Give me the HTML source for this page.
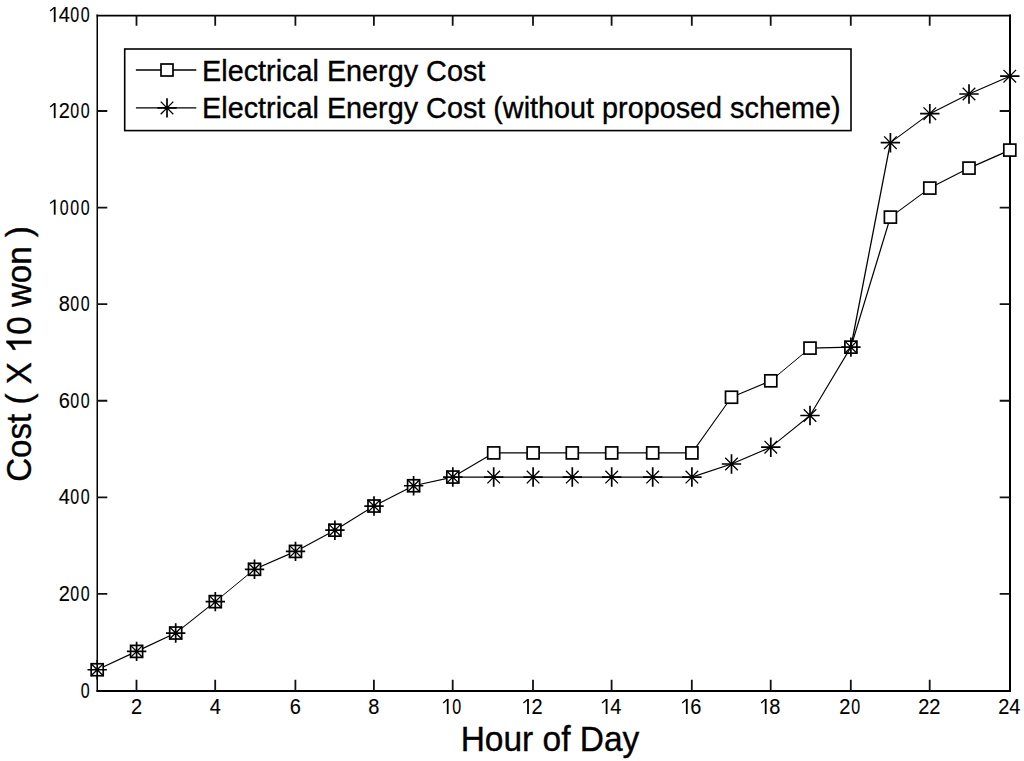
<!DOCTYPE html>
<html><head><meta charset="utf-8"><style>
html,body{margin:0;padding:0;background:#fff;width:1024px;height:761px;overflow:hidden}
svg{display:block;font-family:"Liberation Sans",sans-serif;fill:#000}
text{stroke:#000;stroke-width:.35px}
g.tl text{stroke-width:.12px}
</style></head><body>
<svg width="1024" height="761" viewBox="0 0 1024 761">
<path d="M97.25 14.5V691.8" stroke="#000" stroke-width="1.5"/>
<path d="M96.5 15.6H1011" stroke="#000" stroke-width="1.7"/>
<path d="M1010 14.5V692" stroke="#000" stroke-width="2"/>
<path d="M96.5 691H1011" stroke="#000" stroke-width="2"/>
<path d="M97 593.92h10.3M1010 593.92h-10.3M97 497.34h10.3M1010 497.34h-10.3M97 400.76h10.3M1010 400.76h-10.3M97 304.18h10.3M1010 304.18h-10.3M97 207.6h10.3M1010 207.6h-10.3M97 111.02h10.3M1010 111.02h-10.3M136.5 691v-11.3M136.5 15v10.8M215.2 691v-11.3M215.2 15v10.8M295.4 691v-11.3M295.4 15v10.8M373.9 691v-11.3M373.9 15v10.8M452.7 691v-11.3M452.7 15v10.8M533 691v-11.3M533 15v10.8M611.6 691v-11.3M611.6 15v10.8M691.8 691v-11.3M691.8 15v10.8M770.7 691v-11.3M770.7 15v10.8M850.8 691v-11.3M850.8 15v10.8M929.7 691v-11.3M929.7 15v10.8" stroke="#111" stroke-width="1.8" fill="none"/>
<g stroke="#000" stroke-linecap="round"><path d="M97.2 669.74L136.6 651.39" stroke-width="1.18"/><path d="M136.6 651.39L175.7 633.03" stroke-width="1.18"/><path d="M175.7 633.03L215.3 601.65" stroke-width="1.02"/><path d="M215.3 601.65L254.5 569.29" stroke-width="1.00"/><path d="M254.5 569.29L295.5 551.42" stroke-width="1.19"/><path d="M295.5 551.42L334.9 530.18" stroke-width="1.14"/><path d="M334.9 530.18L374 506.03" stroke-width="1.11"/><path d="M374 506.03L413.6 485.75" stroke-width="1.16"/><path d="M413.6 485.75L452.8 477.06" stroke-width="1.27"/><path d="M452.8 477.06L493.7 452.91" stroke-width="1.12"/><path d="M493.7 452.91L533.1 452.91" stroke-width="1.30"/><path d="M533.1 452.91L572.3 452.91" stroke-width="1.30"/><path d="M572.3 452.91L611.7 452.91" stroke-width="1.30"/><path d="M611.7 452.91L652.7 452.91" stroke-width="1.30"/><path d="M652.7 452.91L691.9 452.91" stroke-width="1.30"/><path d="M691.9 452.91L731.5 397.23" stroke-width="1.06"/><path d="M731.5 397.23L770.8 380.82" stroke-width="1.20"/><path d="M770.8 380.82L810 348.12" stroke-width="1.00"/><path d="M810 348.12L850.9 347.16" stroke-width="1.30"/><path d="M850.9 347.16L890.4 217.11" stroke-width="1.24"/><path d="M890.4 217.11L929.8 188.09" stroke-width="1.05"/><path d="M929.8 188.09L969 168.1" stroke-width="1.16"/><path d="M969 168.1L1009.8 150.09" stroke-width="1.19"/></g>
<g fill="#fff" stroke="#000" stroke-width="1.7"><rect x="91.2" y="663.74" width="12" height="12"/><rect x="130.6" y="645.39" width="12" height="12"/><rect x="169.7" y="627.03" width="12" height="12"/><rect x="209.3" y="595.65" width="12" height="12"/><rect x="248.5" y="563.29" width="12" height="12"/><rect x="289.5" y="545.42" width="12" height="12"/><rect x="328.9" y="524.18" width="12" height="12"/><rect x="368" y="500.03" width="12" height="12"/><rect x="407.6" y="479.75" width="12" height="12"/><rect x="446.8" y="471.06" width="12" height="12"/><rect x="487.7" y="446.91" width="12" height="12"/><rect x="527.1" y="446.91" width="12" height="12"/><rect x="566.3" y="446.91" width="12" height="12"/><rect x="605.7" y="446.91" width="12" height="12"/><rect x="646.7" y="446.91" width="12" height="12"/><rect x="685.9" y="446.91" width="12" height="12"/><rect x="725.5" y="391.23" width="12" height="12"/><rect x="764.8" y="374.82" width="12" height="12"/><rect x="804" y="342.12" width="12" height="12"/><rect x="844.9" y="341.16" width="12" height="12"/><rect x="884.4" y="211.11" width="12" height="12"/><rect x="923.8" y="182.09" width="12" height="12"/><rect x="963" y="162.1" width="12" height="12"/><rect x="1003.8" y="144.09" width="12" height="12"/></g>
<g stroke="#000" stroke-linecap="round"><path d="M452.8 477.06L493.7 477.06" stroke-width="1.30"/><path d="M493.7 477.06L533.1 477.06" stroke-width="1.30"/><path d="M533.1 477.06L572.3 477.06" stroke-width="1.30"/><path d="M572.3 477.06L611.7 477.06" stroke-width="1.30"/><path d="M611.7 477.06L652.7 477.06" stroke-width="1.30"/><path d="M652.7 477.06L691.9 477.06" stroke-width="1.30"/><path d="M691.9 477.06L731.5 464.02" stroke-width="1.23"/><path d="M731.5 464.02L770.8 447.21" stroke-width="1.20"/><path d="M770.8 447.21L810 415.49" stroke-width="1.01"/><path d="M810 415.49L850.9 347.16" stroke-width="1.12"/><path d="M850.9 347.16L890.4 142.7" stroke-width="1.28"/><path d="M890.4 142.7L929.8 113.68" stroke-width="1.05"/><path d="M929.8 113.68L969 94.02" stroke-width="1.16"/><path d="M969 94.02L1009.8 76.2" stroke-width="1.19"/></g>
<path fill="none" stroke="#000" stroke-width="1.7" d="M87.5 669.74H106.9M97.2 660.04V679.44M126.9 651.39H146.3M136.6 641.69V661.09M166 633.03H185.4M175.7 623.33V642.73M205.6 601.65H225M215.3 591.95V611.35M244.8 569.29H264.2M254.5 559.59V578.99M285.8 551.42H305.2M295.5 541.72V561.12M325.2 530.18H344.6M334.9 520.48V539.88M364.3 506.03H383.7M374 496.33V515.73M403.9 485.75H423.3M413.6 476.05V495.45M443.1 477.06H462.5M452.8 467.36V486.76M484 477.06H503.4M493.7 467.36V486.76M523.4 477.06H542.8M533.1 467.36V486.76M562.6 477.06H582M572.3 467.36V486.76M602 477.06H621.4M611.7 467.36V486.76M643 477.06H662.4M652.7 467.36V486.76M682.2 477.06H701.6M691.9 467.36V486.76M721.8 464.02H741.2M731.5 454.32V473.72M761.1 447.21H780.5M770.8 437.51V456.91M800.3 415.49H819.7M810 405.79V425.19M841.2 347.16H860.6M850.9 337.46V356.86M880.7 142.7H900.1M890.4 133V152.4M920.1 113.68H939.5M929.8 103.98V123.38M959.3 94.02H978.7M969 84.32V103.72M1000.1 76.2H1019.5M1009.8 66.5V85.9"/>
<path fill="none" stroke="#000" stroke-width="1.3" d="M90.9 663.44L103.5 676.04M90.9 676.04L103.5 663.44M130.3 645.09L142.9 657.69M130.3 657.69L142.9 645.09M169.4 626.73L182 639.33M169.4 639.33L182 626.73M209 595.35L221.6 607.95M209 607.95L221.6 595.35M248.2 562.99L260.8 575.59M248.2 575.59L260.8 562.99M289.2 545.12L301.8 557.72M289.2 557.72L301.8 545.12M328.6 523.88L341.2 536.48M328.6 536.48L341.2 523.88M367.7 499.73L380.3 512.33M367.7 512.33L380.3 499.73M407.3 479.45L419.9 492.05M407.3 492.05L419.9 479.45M446.5 470.76L459.1 483.36M446.5 483.36L459.1 470.76M487.4 470.76L500 483.36M487.4 483.36L500 470.76M526.8 470.76L539.4 483.36M526.8 483.36L539.4 470.76M566 470.76L578.6 483.36M566 483.36L578.6 470.76M605.4 470.76L618 483.36M605.4 483.36L618 470.76M646.4 470.76L659 483.36M646.4 483.36L659 470.76M685.6 470.76L698.2 483.36M685.6 483.36L698.2 470.76M725.2 457.72L737.8 470.32M725.2 470.32L737.8 457.72M764.5 440.91L777.1 453.51M764.5 453.51L777.1 440.91M803.7 409.19L816.3 421.79M803.7 421.79L816.3 409.19M844.6 340.86L857.2 353.46M844.6 353.46L857.2 340.86M884.1 136.4L896.7 149M884.1 149L896.7 136.4M923.5 107.38L936.1 119.98M923.5 119.98L936.1 107.38M962.7 87.72L975.3 100.32M962.7 100.32L975.3 87.72M1003.5 69.9L1016.1 82.5M1003.5 82.5L1016.1 69.9"/>
<g fill="#000"><rect x="95.6" y="668.14" width="3.2" height="3.2"/><rect x="135" y="649.79" width="3.2" height="3.2"/><rect x="174.1" y="631.43" width="3.2" height="3.2"/><rect x="213.7" y="600.05" width="3.2" height="3.2"/><rect x="252.9" y="567.69" width="3.2" height="3.2"/><rect x="293.9" y="549.82" width="3.2" height="3.2"/><rect x="333.3" y="528.58" width="3.2" height="3.2"/><rect x="372.4" y="504.43" width="3.2" height="3.2"/><rect x="412" y="484.15" width="3.2" height="3.2"/><rect x="451.2" y="475.46" width="3.2" height="3.2"/><rect x="492.1" y="475.46" width="3.2" height="3.2"/><rect x="531.5" y="475.46" width="3.2" height="3.2"/><rect x="570.7" y="475.46" width="3.2" height="3.2"/><rect x="610.1" y="475.46" width="3.2" height="3.2"/><rect x="651.1" y="475.46" width="3.2" height="3.2"/><rect x="690.3" y="475.46" width="3.2" height="3.2"/><rect x="729.9" y="462.42" width="3.2" height="3.2"/><rect x="769.2" y="445.61" width="3.2" height="3.2"/><rect x="808.4" y="413.89" width="3.2" height="3.2"/><rect x="849.3" y="345.56" width="3.2" height="3.2"/><rect x="888.8" y="141.1" width="3.2" height="3.2"/><rect x="928.2" y="112.08" width="3.2" height="3.2"/><rect x="967.4" y="92.42" width="3.2" height="3.2"/><rect x="1008.2" y="74.6" width="3.2" height="3.2"/></g>
<g font-size="20" class="tl"><text transform="translate(85.3 697.6) scale(0.8 1.1)" text-anchor="middle">0</text><text transform="translate(64.3 601.02) scale(1 1.1)" text-anchor="middle">2</text><text transform="translate(74.8 601.02) scale(0.8 1.1)" text-anchor="middle">0</text><text transform="translate(85.3 601.02) scale(0.8 1.1)" text-anchor="middle">0</text><text transform="translate(64.3 504.44) scale(1 1.1)" text-anchor="middle">4</text><text transform="translate(74.8 504.44) scale(0.8 1.1)" text-anchor="middle">0</text><text transform="translate(85.3 504.44) scale(0.8 1.1)" text-anchor="middle">0</text><text transform="translate(64.3 407.86) scale(1 1.1)" text-anchor="middle">6</text><text transform="translate(74.8 407.86) scale(0.8 1.1)" text-anchor="middle">0</text><text transform="translate(85.3 407.86) scale(0.8 1.1)" text-anchor="middle">0</text><text transform="translate(64.3 311.28) scale(1 1.1)" text-anchor="middle">8</text><text transform="translate(74.8 311.28) scale(0.8 1.1)" text-anchor="middle">0</text><text transform="translate(85.3 311.28) scale(0.8 1.1)" text-anchor="middle">0</text><path d="M54.7 199.6V214.7" stroke="#000" stroke-width="1.8"/><path d="M54.3 200.2L50.1 203.6" stroke="#000" stroke-width="1.35"/><text transform="translate(64.3 214.7) scale(0.8 1.1)" text-anchor="middle">0</text><text transform="translate(74.8 214.7) scale(0.8 1.1)" text-anchor="middle">0</text><text transform="translate(85.3 214.7) scale(0.8 1.1)" text-anchor="middle">0</text><path d="M54.7 103.02V118.12" stroke="#000" stroke-width="1.8"/><path d="M54.3 103.62L50.1 107.02" stroke="#000" stroke-width="1.35"/><text transform="translate(64.3 118.12) scale(1 1.1)" text-anchor="middle">2</text><text transform="translate(74.8 118.12) scale(0.8 1.1)" text-anchor="middle">0</text><text transform="translate(85.3 118.12) scale(0.8 1.1)" text-anchor="middle">0</text><path d="M54.7 6.94V22.04" stroke="#000" stroke-width="1.8"/><path d="M54.3 7.54L50.1 10.94" stroke="#000" stroke-width="1.35"/><text transform="translate(64.3 22.04) scale(1 1.1)" text-anchor="middle">4</text><text transform="translate(74.8 22.04) scale(0.8 1.1)" text-anchor="middle">0</text><text transform="translate(85.3 22.04) scale(0.8 1.1)" text-anchor="middle">0</text><text transform="translate(136.5 714) scale(1 1.1)" text-anchor="middle">2</text><text transform="translate(215.2 714) scale(1 1.1)" text-anchor="middle">4</text><text transform="translate(295.4 714) scale(1 1.1)" text-anchor="middle">6</text><text transform="translate(373.9 714) scale(1 1.1)" text-anchor="middle">8</text><path d="M447.7 698.9V714" stroke="#000" stroke-width="1.8"/><path d="M447.3 699.5L443.1 702.9" stroke="#000" stroke-width="1.35"/><text transform="translate(456.8 714) scale(0.8 1.1)" text-anchor="middle">0</text><path d="M528 698.9V714" stroke="#000" stroke-width="1.8"/><path d="M527.6 699.5L523.4 702.9" stroke="#000" stroke-width="1.35"/><text transform="translate(537.1 714) scale(1 1.1)" text-anchor="middle">2</text><path d="M606.6 698.9V714" stroke="#000" stroke-width="1.8"/><path d="M606.2 699.5L602 702.9" stroke="#000" stroke-width="1.35"/><text transform="translate(615.7 714) scale(1 1.1)" text-anchor="middle">4</text><path d="M686.8 698.9V714" stroke="#000" stroke-width="1.8"/><path d="M686.4 699.5L682.2 702.9" stroke="#000" stroke-width="1.35"/><text transform="translate(695.9 714) scale(1 1.1)" text-anchor="middle">6</text><path d="M765.7 698.9V714" stroke="#000" stroke-width="1.8"/><path d="M765.3 699.5L761.1 702.9" stroke="#000" stroke-width="1.35"/><text transform="translate(774.8 714) scale(1 1.1)" text-anchor="middle">8</text><text transform="translate(844.9 714) scale(1 1.1)" text-anchor="middle">2</text><text transform="translate(855.8 714) scale(0.8 1.1)" text-anchor="middle">0</text><text transform="translate(923.8 714) scale(1 1.1)" text-anchor="middle">2</text><text transform="translate(934.7 714) scale(1 1.1)" text-anchor="middle">2</text><text transform="translate(1003.8 714) scale(1 1.1)" text-anchor="middle">2</text><text transform="translate(1014.7 714) scale(1 1.1)" text-anchor="middle">4</text></g>
<rect x="124.7" y="49.0" width="726.3" height="81.6" fill="#fff" stroke="#000" stroke-width="1.6"/>
<path d="M135.9 70.0H196.3M135.9 107.9H196.3" stroke="#000" stroke-width="1.3"/>
<g fill="#fff" stroke="#000" stroke-width="1.7"><rect x="161" y="64" width="12" height="12"/><path d="M157.3 107.9H176.7M167 98.2V117.6"/></g>
<path fill="none" stroke="#000" stroke-width="1.3" d="M160.7 101.6L173.3 114.2M160.7 114.2L173.3 101.6"/>
<rect x="165.4" y="106.3" width="3.2" height="3.2"/>
<g font-size="28.8"><text transform="translate(202.1 80.8) scale(1 1.05)">Electrical Energy Cost</text><text transform="translate(202.1 118) scale(1 1.05)">Electrical Energy Cost (without proposed scheme)</text></g>
<text transform="translate(550 750.5) scale(1 1.04)" font-size="33.5" text-anchor="middle">Hour of Day</text>
<g transform="translate(31.3 354) rotate(-90) scale(1 1.05)"><text font-size="33.1" text-anchor="middle">Cost ( X <tspan style="fill:none;stroke:none">1</tspan>0 won )</text><path transform="translate(0.9 0) scale(0.016162 -0.016162)" d="M763 0H583V1147L530 1097L459 1046L375 995L290 950L215 915V1090L340 1160L450 1240L540 1330L600 1410L640 1466H763Z" stroke="#000" stroke-width="22"/></g>
</svg>
</body></html>
